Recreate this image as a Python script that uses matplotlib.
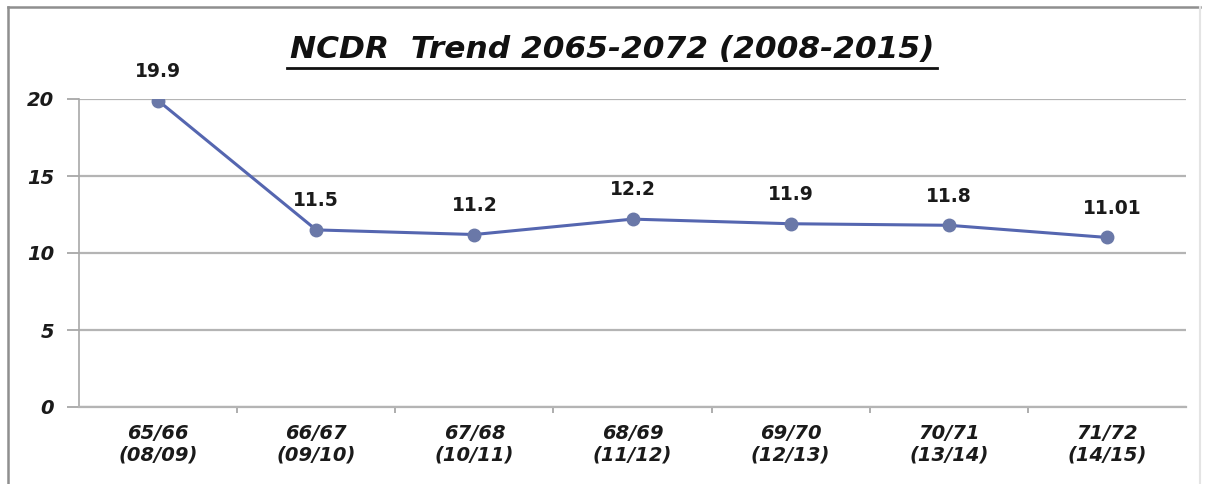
import matplotlib
matplotlib.use('Agg')
import matplotlib.pyplot as plt
from matplotlib.lines import Line2D
from matplotlib.patches import Rectangle

# chart data
years = ['65/66\n(08/09)', '66/67\n(09/10)', '67/68\n(10/11)', '68/69\n(11/12)',
         '69/70\n(12/13)', '70/71\n(13/14)', '71/72\n(14/15)']
ncdr = [19.9, 11.5, 11.2, 12.2, 11.9, 11.8, 11.01]
value_labels = ['19.9', '11.5', '11.2', '12.2', '11.9', '11.8', '11.01']
yticks = [0, 5, 10, 15, 20]
title = 'NCDR  Trend 2065-2072 (2008-2015)'

W, H = 1208, 484
fig = plt.figure(figsize=(W / 100, H / 100), dpi=100)
fig.patch.set_facecolor('white')

# outer frame of the chart area (right edge is only faint in the original)
fig.add_artist(Line2D([8 / W, 8 / W], [0, 1 - 7 / H], transform=fig.transFigure,
                      color='#8f8f8f', linewidth=1.8))
fig.add_artist(Line2D([8 / W, 1200 / W], [1 - 7 / H, 1 - 7 / H], transform=fig.transFigure,
                      color='#8f8f8f', linewidth=1.8))
fig.add_artist(Line2D([1200 / W, 1200 / W], [0, 1 - 7 / H], transform=fig.transFigure,
                      color='#e4e4e4', linewidth=1.5))

ax = fig.add_axes([79 / W, 1 - 407 / H, 1107 / W, 308 / H])
x = list(range(len(ncdr)))
ax.plot(x, ncdr, color='#5566b0', linewidth=2.2, zorder=3)
ax.plot(x, ncdr, linestyle='none', marker='o', markersize=9,
        markerfacecolor='#6a78a8', markeredgecolor='#6a78a8', zorder=4)

for xi, yi, lab in zip(x, ncdr, value_labels):
    dx = 4 if lab == '11.01' else 0
    ax.annotate(lab, (xi, yi), xytext=(dx, 21), textcoords='offset points',
                ha='center', va='center', fontsize=13.5, fontweight='bold',
                family='DejaVu Sans', color='#1a1a1a')

tick_font = dict(fontsize=14, fontweight='bold', fontstyle='italic',
                 family='DejaVu Sans', color='#1a1a1a')
ax.set_xlim(-0.5, len(ncdr) - 0.5)
ax.set_ylim(0, 20)
ax.set_yticks(yticks)
ax.set_yticklabels([str(t) for t in yticks], **tick_font)
ax.set_xticks(x)
ax.set_xticklabels(years, linespacing=1.2, **tick_font)
ax.set_xticks([i + 0.5 for i in x[:-1]], minor=True)
ax.tick_params(axis='x', which='major', length=0, pad=12)
ax.tick_params(axis='x', which='minor', length=4, color='#a0a0a0', width=1.2)
ax.tick_params(axis='y', which='major', length=9, color='#a0a0a0', width=1.2, pad=9)

ax.grid(axis='y', color='#b4b4b4', linewidth=1.6)
ax.set_axisbelow(True)
for side in ['top', 'right']:
    ax.spines[side].set_visible(False)
ax.spines['left'].set_color('#a8a8a8')
ax.spines['left'].set_linewidth(1.2)
ax.spines['bottom'].set_color('#b4b4b4')
ax.spines['bottom'].set_linewidth(1.6)

# title with underline
t = fig.text(612 / W, 1 - 50 / H, title, ha='center', va='center', fontsize=22.5,
             fontweight='bold', fontstyle='italic', family='DejaVu Sans', color='#111111')
fig.canvas.draw()
bb = t.get_window_extent(fig.canvas.get_renderer())
yline = 1 - 68 / H
fig.add_artist(Line2D([bb.x0 / W - 0.002, bb.x1 / W + 0.002], [yline, yline],
                      transform=fig.transFigure, color='#111111', linewidth=2))

fig.savefig('out.png', dpi=100)
